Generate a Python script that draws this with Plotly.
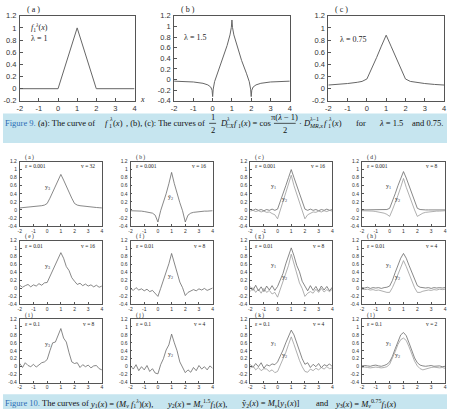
import plotly.graph_objects as go

W, H = 449, 414

# ---------------- Figure 9 data ----------------
F9A_X = [-2, 0, 1, 2, 4]
F9A_Y = [0, 0, 1, 0, 0]
F9B_X = [-2, -1.5, -1, -0.5, -0.25, -0.1, -0.03, 0, 0.03, 0.1, 0.25, 0.5, 0.75, 0.9, 0.97, 1,
         1.03, 1.1, 1.25, 1.5, 1.75, 1.9, 1.97, 2, 2.03, 2.1, 2.25, 2.5, 3, 3.5, 4]
F9B_Y = [-0.03, -0.035, -0.045, -0.07, -0.1, -0.14, -0.2, -0.32, -0.18, -0.04, 0.12, 0.36, 0.64, 0.84, 0.98, 1.12,
         0.98, 0.84, 0.64, 0.36, 0.12, -0.04, -0.18, -0.32, -0.2, -0.14, -0.1, -0.07, -0.045, -0.035, -0.03]
F9C_X = [-2, -1.5, -1, -0.5, -0.25, 0, 0.25, 0.5, 0.75, 1, 1.25, 1.5, 1.75, 2, 2.25, 2.5, 3, 3.5, 4]
F9C_Y = [0.06, 0.07, 0.085, 0.105, 0.12, 0.16, 0.33, 0.51, 0.70, 0.88, 0.70, 0.51, 0.33, 0.16, 0.12, 0.105, 0.085, 0.07, 0.06]

X_TICKS = [-2, -1, 0, 1, 2, 3, 4]
X_TICKTEXT = ["-2", "-1", "0", "1", "2", "3", "4"]
Y_TICKS_A = [1.2, 1, 0.8, 0.6, 0.4, 0.2, 0, -0.2]
Y_TICKTEXT_A = ["1.2", "1", "0.8", "0.6", "0.4", "0.2", "0", "-0.2"]
Y_TICKS_B = [1.2, 1, 0.8, 0.6, 0.4, 0.2, 0, -0.2, -0.4]
Y_TICKTEXT_B = ["1.2", "1", "0.8", "0.6", "0.4", "0.2", "0", "-0.2", "-0.4"]

# ---------------- Figure 10 data ----------------
XG = [-2.0, -1.8, -1.6, -1.4, -1.2, -1.0, -0.8, -0.6, -0.4, -0.2, 0.0, 0.2, 0.4, 0.6, 0.8, 1.0,
      1.2, 1.4, 1.6, 1.8, 2.0, 2.2, 2.4, 2.6, 2.8, 3.0, 3.2, 3.4, 3.6, 3.8, 4.0]

A_Y3 = [0.05, 0.055, 0.06, 0.065, 0.07, 0.08, 0.085, 0.095, 0.105, 0.12, 0.16, 0.29, 0.43, 0.58, 0.74, 0.88,
        0.74, 0.58, 0.43, 0.29, 0.16, 0.12, 0.105, 0.095, 0.085, 0.08, 0.07, 0.065, 0.06, 0.055, 0.05]
B_Y2 = [-0.02, -0.02, -0.03, -0.03, -0.03, -0.04, -0.05, -0.06, -0.08, -0.13, -0.3, -0.02, 0.18, 0.4, 0.65, 0.93,
        0.65, 0.4, 0.18, -0.02, -0.3, -0.13, -0.08, -0.06, -0.05, -0.04, -0.03, -0.03, -0.03, -0.02, -0.02]
C_Y1 = [0.01, -0.01, 0.02, -0.01, 0.01, -0.02, 0.01, -0.01, 0.02, -0.01, 0.02, 0.2, 0.4, 0.6, 0.8, 1.0,
        0.8, 0.6, 0.4, 0.2, 0.02, -0.01, 0.02, -0.01, 0.01, -0.02, 0.01, -0.01, 0.02, -0.01, 0.01]
C_Y2 = [-0.03, -0.01, -0.04, -0.02, -0.05, -0.03, -0.06, -0.05, -0.09, -0.12, -0.22, 0.0, 0.18, 0.38, 0.6, 0.86,
        0.6, 0.38, 0.18, 0.0, -0.22, -0.12, -0.09, -0.05, -0.06, -0.03, -0.05, -0.02, -0.04, -0.01, -0.03]
D_Y1 = [0.0, 0.0, 0.0, 0.0, 0.0, 0.0, 0.0, 0.0, 0.0, 0.01, 0.04, 0.2, 0.4, 0.6, 0.79, 0.95,
        0.79, 0.6, 0.4, 0.2, 0.04, 0.01, 0.0, 0.0, 0.0, 0.0, 0.0, 0.0, 0.0, 0.0, 0.0]
D_Y2 = [-0.02, -0.02, -0.03, -0.03, -0.03, -0.04, -0.05, -0.06, -0.08, -0.11, -0.16, 0.0, 0.17, 0.36, 0.56, 0.78,
        0.56, 0.36, 0.17, 0.0, -0.16, -0.11, -0.08, -0.06, -0.05, -0.04, -0.03, -0.03, -0.03, -0.02, -0.02]
E_Y3 = [0.08, 0.03, 0.07, 0.1, 0.04, 0.09, 0.06, 0.12, 0.08, 0.14, 0.15, 0.3, 0.41, 0.6, 0.72, 0.9,
        0.76, 0.55, 0.45, 0.27, 0.18, 0.1, 0.13, 0.07, 0.11, 0.06, 0.09, 0.04, 0.08, 0.03, 0.06]
F_Y2 = [0.0, -0.05, 0.02, -0.04, -0.01, -0.06, -0.02, -0.08, -0.05, -0.12, -0.2, 0.0, 0.2, 0.38, 0.62, 0.88,
        0.64, 0.36, 0.16, 0.02, -0.18, -0.1, -0.07, -0.03, -0.06, -0.01, -0.04, 0.0, -0.05, -0.02, 0.01]
G_Y1 = [0.05, -0.05, 0.08, -0.06, 0.04, -0.08, 0.06, -0.04, 0.07, -0.05, 0.05, 0.22, 0.38, 0.62, 0.8, 1.02,
        0.82, 0.58, 0.42, 0.18, 0.06, -0.06, 0.07, -0.05, 0.05, -0.07, 0.06, -0.04, 0.05, -0.06, 0.03]
G_Y2 = [-0.08, 0.02, -0.1, -0.02, -0.12, 0.0, -0.1, -0.05, -0.14, -0.1, -0.22, -0.02, 0.16, 0.4, 0.58, 0.86,
        0.62, 0.38, 0.14, 0.0, -0.2, -0.12, -0.08, -0.12, -0.02, -0.1, 0.0, -0.09, -0.03, -0.08, -0.02]
H_Y1 = [0.02, 0.01, 0.03, 0.0, 0.02, 0.01, 0.02, 0.0, 0.02, 0.03, 0.06, 0.2, 0.4, 0.58, 0.76, 0.88,
        0.76, 0.58, 0.4, 0.22, 0.07, 0.03, 0.02, 0.01, 0.02, 0.0, 0.02, 0.01, 0.02, 0.01, 0.02]
H_Y2 = [-0.02, -0.03, -0.02, -0.04, -0.03, -0.05, -0.04, -0.06, -0.07, -0.1, -0.1, 0.02, 0.18, 0.36, 0.54, 0.7,
        0.55, 0.36, 0.18, 0.02, -0.1, -0.1, -0.07, -0.06, -0.04, -0.05, -0.03, -0.04, -0.02, -0.03, -0.02]
I_Y3 = [0.08, -0.02, 0.1, 0.03, 0.0, 0.06, -0.01, 0.05, 0.1, 0.12, 0.18, 0.4, 0.6, 0.62, 0.78, 0.96,
        0.72, 0.62, 0.35, 0.12, 0.08, 0.1, -0.02, 0.05, 0.0, 0.04, -0.03, 0.02, 0.03, -0.05, -0.08]
J_Y2 = [0.02, -0.06, 0.05, -0.1, 0.0, -0.08, 0.03, -0.12, -0.05, -0.16, -0.18, 0.05, 0.2, 0.42, 0.55, 0.82,
        0.6, 0.4, 0.12, -0.02, -0.15, -0.08, -0.14, -0.02, -0.1, 0.03, -0.06, 0.0, -0.08, 0.02, -0.04]
K_Y1 = [0.06, -0.02, 0.08, 0.0, 0.1, -0.04, 0.05, 0.02, 0.07, 0.05, 0.12, 0.25, 0.42, 0.6, 0.78, 0.92,
        0.8, 0.58, 0.4, 0.2, 0.06, 0.1, -0.02, 0.06, 0.0, 0.08, -0.03, 0.05, 0.02, 0.07, 0.0]
K_Y2 = [-0.04, 0.02, -0.08, -0.02, -0.1, -0.05, -0.06, -0.12, -0.08, -0.15, -0.12, 0.04, 0.18, 0.36, 0.56, 0.75,
        0.56, 0.34, 0.16, 0.0, -0.12, -0.14, -0.06, -0.1, -0.04, -0.08, -0.02, -0.06, 0.0, -0.05, -0.03]
L_Y1 = [0.02, 0.03, 0.02, 0.01, 0.03, 0.04, 0.02, 0.01, 0.03, 0.06, 0.12, 0.26, 0.45, 0.64, 0.8, 0.86,
        0.78, 0.6, 0.4, 0.22, 0.1, 0.04, 0.02, 0.01, 0.02, 0.03, 0.01, 0.02, 0.02, 0.0, 0.01]
L_Y2 = [-0.02, -0.01, -0.02, -0.03, -0.02, -0.01, -0.02, -0.03, -0.02, 0.0, 0.06, 0.2, 0.38, 0.56, 0.68, 0.72,
        0.66, 0.5, 0.32, 0.14, 0.02, -0.05, -0.08, -0.06, -0.03, -0.02, -0.01, -0.02, -0.03, -0.02, -0.04]

PANEL_LETTERS = ["a", "b", "c", "d", "e", "f", "g", "h", "i", "j", "k", "l"]
PANEL_EPS = ["0.001", "0.001", "0.001", "0.001", "0.01", "0.01", "0.01", "0.01", "0.1", "0.1", "0.1", "0.1"]
PANEL_V = ["32", "16", "16", "8", "16", "8", "8", "4", "8", "4", "4", "2"]
PANEL_SERIES = [
    [("y<sub>3</sub>", A_Y3, (0.0, 0.55))],
    [("ŷ<sub>2</sub>", B_Y2, (0.95, 0.3))],
    [("y<sub>1</sub>", C_Y1, (-0.3, 0.58)), ("y<sub>2</sub>", C_Y2, (0.5, 0.27))],
    [("y<sub>1</sub>", D_Y1, (-0.1, 0.58)), ("y<sub>2</sub>", D_Y2, (0.6, 0.27))],
    [("y<sub>3</sub>", E_Y3, (0.0, 0.55))],
    [("y<sub>2</sub>", F_Y2, (0.95, 0.3))],
    [("y<sub>1</sub>", G_Y1, (-0.3, 0.58)), ("y<sub>2</sub>", G_Y2, (0.5, 0.27))],
    [("y<sub>1</sub>", H_Y1, (-0.1, 0.58)), ("y<sub>2</sub>", H_Y2, (0.6, 0.27))],
    [("y<sub>3</sub>", I_Y3, (0.0, 0.55))],
    [("y<sub>2</sub>", J_Y2, (0.95, 0.3))],
    [("y<sub>1</sub>", K_Y1, (-0.3, 0.58)), ("y<sub>2</sub>", K_Y2, (0.5, 0.27))],
    [("y<sub>1</sub>", L_Y1, (-0.1, 0.58)), ("y<sub>2</sub>", L_Y2, (0.6, 0.27))],
]

# ---------------- layout helpers ----------------
def px(x):
    return x / W

def py(y):
    return 1 - y / H

fig = go.Figure()
layout = dict(width=W, height=H, margin=dict(l=0, r=0, t=0, b=0),
              paper_bgcolor="white", plot_bgcolor="white", showlegend=False)
annotations = []
shapes = []

SANS = "Liberation Sans, Arial, sans-serif"
SERIF = "Liberation Serif, Times New Roman, serif"

def add_axes(idx, box, yr, yt, ytt, tfs, tlen):
    x0, x1, y0, y1 = box
    common = dict(showgrid=False, zeroline=False, showline=True, mirror=True,
                  linecolor="#555", linewidth=0.8, ticks="inside", ticklen=tlen,
                  tickcolor="#555", tickwidth=0.6,
                  tickfont=dict(family=SANS, size=tfs, color="#333"))
    sfx = "" if idx == 1 else str(idx)
    layout["xaxis" + sfx] = dict(domain=[px(x0), px(x1)], range=[-2, 4], anchor="y" + sfx,
                                 tickvals=X_TICKS, ticktext=X_TICKTEXT, ticklabelstandoff=0, **common)
    layout["yaxis" + sfx] = dict(domain=[py(y1), py(y0)], range=yr, anchor="x" + sfx,
                                 tickvals=yt, ticktext=ytt, ticklabelstandoff=1, **common)
    return "x" + sfx, "y" + sfx

def txt(text, x, y, size, anchor="left", family=SERIF, color="#111", xref="paper", yref="paper"):
    if xref == "paper":
        x = px(x)
    if yref == "paper":
        y = py(y)
    annotations.append(dict(text=text, x=x, y=y, xref=xref, yref=yref, xanchor=anchor,
                            yanchor="middle", showarrow=False,
                            font=dict(family=family, size=size, color=color)))

# Figure 9 panels
F9_BOXES = [(17, 133, 12, 99), (173, 290, 12, 99), (329, 446, 12, 99)]
F9_DATA = [(F9A_X, F9A_Y, [-0.2, 1.2], Y_TICKS_A, Y_TICKTEXT_A),
           (F9B_X, F9B_Y, [-0.4, 1.2], Y_TICKS_B, Y_TICKTEXT_B),
           (F9C_X, F9C_Y, [-0.2, 1.2], Y_TICKS_A, Y_TICKTEXT_A)]
F9_TITLES = ["( a )", "( b )", "( c )"]
for i, (box, (xs, ys, yr, yt, ytt)) in enumerate(zip(F9_BOXES, F9_DATA)):
    xa, ya = add_axes(i + 1, box, yr, yt, ytt, 7.5, 3)
    fig.add_trace(go.Scatter(x=xs, y=ys, mode="lines", xaxis=xa, yaxis=ya,
                             line=dict(color="#666", width=1)))
    txt(F9_TITLES[i], box[0] + 5, 6, 8, color="#222")

txt("<i>f</i><sub>1</sub><sup><i>λ</i></sup>(<i>x</i>)", 26, 24, 8, color="#222")
txt("λ = 1", 26, 35, 8, color="#222")
txt("λ = 1.5", 181, 34, 8, color="#222")
txt("λ = 0.75", 339, 36, 8, color="#222")
txt("<i>x</i>", 137, 98, 8, color="#222")

# Figure 10 panels
COLS = [(17, 100), (129, 212), (250, 333), (363, 447)]
ROWS = [(161, 227), (242, 307), (322, 387)]
SERIES_COLORS = ["#6a6a6a", "#9a9a9a"]
for k in range(12):
    r, c = divmod(k, 4)
    box = (COLS[c][0], COLS[c][1], ROWS[r][0], ROWS[r][1])
    xa, ya = add_axes(k + 4, box, [-0.4, 1.2], Y_TICKS_B, Y_TICKTEXT_B, 5, 2)
    for j, (lab, ys, pos) in enumerate(PANEL_SERIES[k]):
        fig.add_trace(go.Scatter(x=XG, y=ys, mode="lines", xaxis=xa, yaxis=ya,
                                 line=dict(color=SERIES_COLORS[j], width=0.8)))
        txt(lab, pos[0], pos[1], 6, anchor="center", color="#333", xref=xa, yref=ya)
    txt("( %s )" % PANEL_LETTERS[k], box[0] + 3, box[2] - 4, 5.5, color="#222")
    txt("ε = " + PANEL_EPS[k], box[0] + 3, box[2] + 5, 5.5, color="#222")
    txt("v = " + PANEL_V[k], box[1] - 5, box[2] + 5, 5.5, anchor="right", color="#222")

# caption bands
BAND = "#c6e5ef"
shapes.append(dict(type="rect", xref="paper", yref="paper", x0=0, x1=1, y0=py(142), y1=py(112),
                   fillcolor=BAND, line=dict(width=0), layer="below"))
shapes.append(dict(type="rect", xref="paper", yref="paper", x0=0, x1=1, y0=0, y1=py(399),
                   fillcolor=BAND, line=dict(width=0), layer="below"))

def bar(x0, x1, y):
    shapes.append(dict(type="line", xref="paper", yref="paper", x0=px(x0), x1=px(x1), y0=py(y), y1=py(y),
                       line=dict(color="#111", width=0.7)))

BLUE = "#2a6db5"
CS = 8.5   # caption font size
SS = 6     # script size
YB = 122   # caption baseline centre
txt("Figure 9.", 0, YB, CS, color=BLUE)
txt("(a): The curve of", 33, YB, CS)
# f1^lambda(x)
txt("<i>f</i>", 101, YB, CS)
txt("<i>λ</i>", 105, YB - 4, SS)
txt("1", 105, YB + 3, SS)
txt("(<i>x</i>)", 109, YB, CS)
txt(", (b), (c): The curves of", 122, YB, CS)
# 1/2
txt("1", 212, YB - 6.5, CS, anchor="center")
txt("2", 212, YB + 6.5, CS, anchor="center")
bar(208.5, 215.5, YB)
# D^lambda_CX f1(x) = cos
txt("<i>D</i>", 217, YB, CS)
txt("<i>λ</i>", 223.5, YB - 4, SS)
txt("<i>CX</i>", 223.5, YB + 3, SS)
txt("<i>f</i>", 232, YB, CS)
txt("1", 235.5, YB + 3, SS)
txt("(<i>x</i>) = cos", 238.5, YB, CS)
# pi(lambda-1)/2
txt("π(<i>λ</i> − 1)", 285, YB - 6.5, CS, anchor="center")
txt("2", 285, YB + 6.5, CS, anchor="center")
bar(274, 296, YB)
# . D^{lambda-1}_{MR,x} f1^lambda(x)
txt("·", 297, YB, CS)
txt("<i>D</i>", 301, YB, CS)
txt("<i>λ</i>−1", 307.5, YB - 4, SS)
txt("<i>MR,x</i>", 307.5, YB + 3, SS)
txt("<i>f</i>", 323, YB, CS)
txt("<i>λ</i>", 327, YB - 4, SS)
txt("1", 327, YB + 3, SS)
txt("(<i>x</i>)", 331, YB, CS)
txt("for", 355, YB, CS)
txt("<i>λ</i> = 1.5", 378, YB, CS)
txt("and 0.75.", 412, YB, CS)

# Figure 10 caption (cut by the bottom edge)
YC = 408
txt("Figure 10.", 0, YC, CS, color=BLUE)
txt("The curves of", 37, YC, CS)
txt("<i>y</i><sub>1</sub>(<i>x</i>) = (<i>M<sub>v</sub> f</i><sub>1</sub><sup><i>λ</i></sup>)(<i>x</i>),", 86, YC, CS)
txt("<i>y</i><sub>2</sub>(<i>x</i>) = <i>M</i><sub><i>v</i></sub><sup>1.5</sup><i>f</i><sub>1</sub>(<i>x</i>),", 164, YC, CS)
txt("ŷ<sub>2</sub>(<i>x</i>) = <i>M<sub>v</sub></i>[<i>y</i><sub>1</sub>(<i>x</i>)]", 240, YC, CS)
txt("and", 314, YC, CS)
txt("<i>y</i><sub>3</sub>(<i>x</i>) = <i>M</i><sub><i>v</i></sub><sup>0.75</sup><i>f</i><sub>1</sub>(<i>x</i>)", 334, YC, CS)

layout["annotations"] = annotations
layout["shapes"] = shapes
fig.update_layout(**layout)
fig.write_html("out.html")
